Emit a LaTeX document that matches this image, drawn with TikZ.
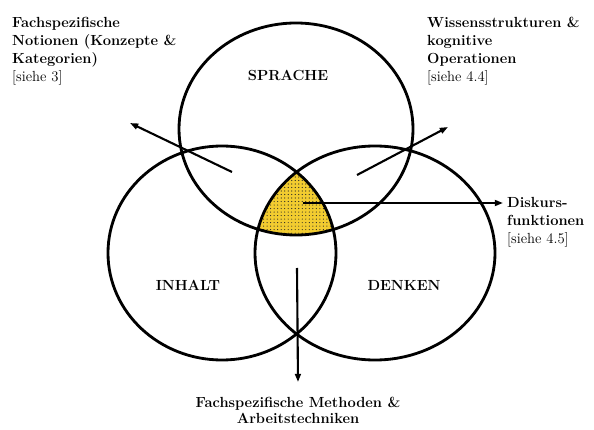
\documentclass[tikz,border=0pt]{standalone}
\usepackage{xcolor}
\usepackage{tikz}
\usetikzlibrary{arrows.meta, patterns, positioning}
\definecolor{overlapyellow}{RGB}{242,204,48}
\tikzset{
  ring/.style={draw=black, line width=2.4pt},
  areatitle/.style={
    inner sep=0pt, font=\fontsize{12.5}{14}\selectfont\bfseries
  },
  note/.style={
    anchor=north west, inner sep=0pt, align=left,
    font=\fontsize{12.5}{15.3}\selectfont\bfseries
  },
  arrow/.style={-{Triangle[length=7pt,width=5pt]}, line width=1.8pt, draw=black},
}

\begin{document}
\begin{tikzpicture}[x=0.03cm, y=-0.03cm]
    \useasboundingbox (0,0) rectangle (594,430);

    %% Circle centres
    \coordinate (cs) at (296,129);
    \coordinate (ci) at (222,253);
    \coordinate (cd) at (375,253);

    %% Overlap of all three circles
    \begin{scope}
      \clip (cs) ellipse [x radius=117, y radius=106];
      \clip (ci) ellipse [x radius=114, y radius=107];
      \fill[overlapyellow] (cd) ellipse [x radius=120, y radius=107];
      \fill[pattern=dots, pattern color=black!85] (cd) ellipse [x radius=120, y radius=107];
    \end{scope}

    %% Circles
    \draw[ring] (cs) ellipse [x radius=117, y radius=106];
    \draw[ring] (ci) ellipse [x radius=114, y radius=107];
    \draw[ring] (cd) ellipse [x radius=120, y radius=107];

    %% Circle titles
    \node[areatitle] (sprache) at (288,75) {SPRACHE};
    \node[areatitle] (inhalt) at (188,285) {INHALT};
    \node[areatitle] (denken) at (404,285) {DENKEN};

    %% Notes
    \node[note] (notionen) at (12,17) {Fachspezifische\\Notionen (Konzepte \&\\Kategorien)\\{\mdseries[siehe 3]}};
    \node[note] (wissen) at (427,17) {Wissensstrukturen \&\\kognitive\\Operationen\\{\mdseries[siehe 4.4]}};
    \node[note, anchor=west] (diskurs) at (507,222) {Diskurs-\\funktionen\\{\mdseries[siehe 4.5]}};
    \node[note, anchor=north, align=center, font=\fontsize{12.5}{14}\selectfont\bfseries] (methoden) at (298,397) {Fachspezifische Methoden \&\\Arbeitstechniken};

    %% Arrow ends
    \coordinate (ls) at (232,172);
    \coordinate (le) at (130,123);
    \coordinate (rs) at (357,175);
    \coordinate (re) at (448,127);
    \coordinate (ms) at (303,203);
    \coordinate (me) at (503,203);
    \coordinate (bs) at (297,268);
    \coordinate (be) at (298,382);

    %% Arrows
    \draw[arrow] (ls) -- (le);
    \draw[arrow] (rs) -- (re);
    \draw[arrow] (ms) -- (me);
    \draw[arrow] (bs) -- (be);

  \end{tikzpicture}
\end{document}
